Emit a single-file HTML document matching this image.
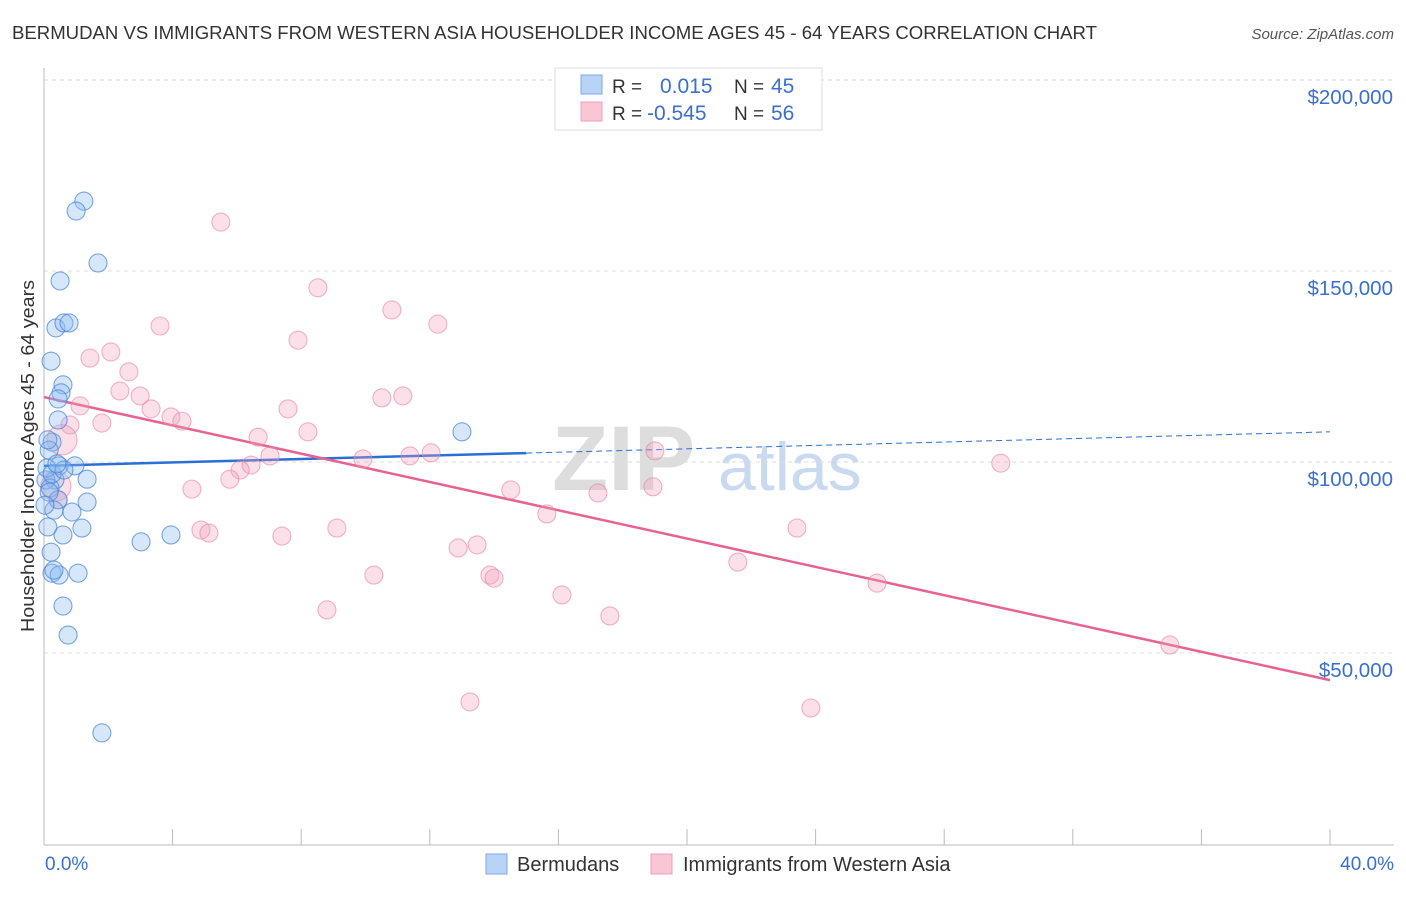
<!DOCTYPE html>
<html><head><meta charset="utf-8"><style>
body{margin:0;background:#fff;font-family:"Liberation Sans",sans-serif;}
svg text{font-family:"Liberation Sans",sans-serif;}
</style></head><body>
<svg id="chart" width="1406" height="892" xmlns="http://www.w3.org/2000/svg">
<text x="12" y="39" font-size="18" fill="#333" textLength="1085" lengthAdjust="spacingAndGlyphs">BERMUDAN VS IMMIGRANTS FROM WESTERN ASIA HOUSEHOLDER INCOME AGES 45 - 64 YEARS CORRELATION CHART</text>
<text x="1394" y="39" font-size="15" fill="#555" text-anchor="end" font-style="italic">Source: ZipAtlas.com</text>
<text transform="translate(34,456) rotate(-90)" font-size="18.5" fill="#333" text-anchor="middle" textLength="352" lengthAdjust="spacingAndGlyphs">Householder Income Ages 45 - 64 years</text>
<g>
<text x="552" y="490" font-size="92" fill="#ddd" font-family="Liberation Serif" font-weight="bold">ZIP</text>
<text x="718" y="490" font-size="68" fill="#c9daf0">atlas</text>
</g>
<g id="grid"></g>
<g id="axes"></g>
<g id="lines"></g>
<g id="pts"></g>
<g>
<rect x="555" y="68" width="267" height="62" fill="#fff" stroke="#ddd"/>
<rect x="581" y="75" width="21" height="19" fill="#b8d3f5" stroke="#7fa9e6"/>
<rect x="581" y="102" width="21" height="19" fill="#f8c6d5" stroke="#eea0b8"/>
<text x="612" y="93" font-size="19" fill="#333">R =</text>
<text x="660" y="93" font-size="21" fill="#3a6fd0">0.015</text>
<text x="734" y="93" font-size="19" fill="#333">N =</text>
<text x="771" y="93" font-size="21" fill="#3a6fd0">45</text>
<text x="612" y="120" font-size="19" fill="#333">R =</text>
<text x="647" y="120" font-size="21" fill="#3a6fd0">-0.545</text>
<text x="734" y="120" font-size="19" fill="#333">N =</text>
<text x="771" y="120" font-size="21" fill="#3a6fd0">56</text>
</g>
<g>
<rect x="486" y="854" width="21" height="20" fill="#b8d3f5" stroke="#7fa9e6"/>
<text x="517" y="871" font-size="20" fill="#333">Bermudans</text>
<rect x="651" y="854" width="21" height="20" fill="#f8c6d5" stroke="#eea0b8"/>
<text x="683" y="871" font-size="20" fill="#333">Immigrants from Western Asia</text>
</g>
</svg>
<script>
const xTickLabels=["0.0%","40.0%"];
const yTicks=[50000,100000,150000,200000];
const yTickLabels=["$50,000","$100,000","$150,000","$200,000"];
const blueX=[1.24,1.00,1.68,0.50,0.37,0.62,0.78,0.22,0.59,0.53,0.44,0.44,0.25,0.16,0.47,0.96,0.34,1.34,0.06,0.19,0.44,0.31,1.34,0.87,1.18,0.59,0.12,3.02,3.95,0.22,0.25,0.47,1.06,0.31,0.59,0.75,1.80,13.0,0.09,0.25,0.16,0.62,0.40,0.03,0.12];
const blueY=[168.3,165.7,152.1,147.4,135.1,136.4,136.4,126.4,120.2,118.1,116.5,111.0,105.2,103.1,99.0,99.0,95.3,95.5,95.3,93.2,90.1,87.4,89.5,86.9,82.7,80.9,83.0,79.1,80.9,76.4,70.9,70.4,70.9,71.7,62.3,54.7,29.1,107.9,98.4,96.9,92.1,97.9,99.5,88.7,105.8];
const pinkX=[5.5,8.52,10.82,12.25,3.61,7.90,2.08,1.43,2.64,2.36,2.99,11.16,10.51,1.12,3.33,7.59,3.95,4.29,1.80,0.81,8.21,6.66,0.56,19.0,12.04,11.38,7.03,9.92,6.44,29.76,6.10,5.78,0.37,18.94,4.60,14.52,17.23,0.44,15.64,23.42,9.11,4.88,5.13,7.40,13.47,12.88,21.58,10.26,13.87,14.00,25.91,16.11,8.80,17.60,35.02,13.25,23.85];
const pinkY=[162.8,145.6,139.8,136.1,135.6,131.9,128.8,127.2,123.6,118.6,117.3,117.3,116.8,114.7,113.9,113.9,111.8,110.7,110.2,109.7,107.9,106.5,105.8,102.9,102.4,101.6,101.6,100.8,99.2,99.7,97.9,95.5,93.7,93.5,92.9,92.7,91.9,90.1,86.4,82.7,82.7,82.2,81.4,80.6,78.3,77.5,73.8,70.4,70.4,69.6,68.3,65.2,61.3,59.7,52.1,37.2,35.6];
const bigPink=[22,32];
const blueTrend=[99.0,107.9];
const pinkTrend=[117.0,42.9];
const NS="http://www.w3.org/2000/svg";
const X=p=>44+p/40*1286;
const Y=k=>462-(k-100)*191/50;
function mk(par,tag,at){const e=document.createElementNS(NS,tag);for(const k in at)e.setAttribute(k,at[k]);document.getElementById(par).appendChild(e);return e;}
yTicks.forEach((v,i)=>{
 const g=mk('grid','line',{x1:44,x2:1394,y1:Y(v/1000),y2:Y(v/1000),stroke:'#ddd','stroke-dasharray':'4,4'});
 
 
 const t=mk('grid','text',{x:1393,y:Y(v/1000)+24,'font-size':20.5,fill:'#3a6fd0','text-anchor':'end'});
 t.textContent=yTickLabels[i];
 
 
});
let a=mk('axes','line',{x1:44,x2:44,y1:68,y2:845,stroke:'#bbb'});


a=mk('axes','line',{x1:44,x2:1394,y1:845,y2:845,stroke:'#bbb'});


for(let i=1;i<=10;i++){const t=mk('axes','line',{x1:X(i*4),x2:X(i*4),y1:829,y2:845,stroke:'#bbb'});
 
 }
let t=mk('axes','text',{x:45,y:870,'font-size':19,fill:'#3a6fd0'});t.textContent=xTickLabels[0];


t=mk('axes','text',{x:1394,y:870,'font-size':19,fill:'#3a6fd0','text-anchor':'end'});t.textContent=xTickLabels[1];


pinkX.forEach((x,i)=>{const c=mk('pts','circle',{cx:X(x),cy:Y(pinkY[i]),r:bigPink.includes(i)?15:9,fill:'rgba(244,160,186,0.32)',stroke:'rgba(232,130,165,0.6)','stroke-width':1.1});
 
 });
blueX.forEach((x,i)=>{const c=mk('pts','circle',{cx:X(x),cy:Y(blueY[i]),r:9,fill:'rgba(140,185,240,0.35)',stroke:'rgba(70,130,215,0.7)','stroke-width':1.1});
 
 });
const bAt=p=>blueTrend[0]+(blueTrend[1]-blueTrend[0])*p/40;
let l=mk('lines','line',{x1:X(0),y1:Y(bAt(0)),x2:X(15),y2:Y(bAt(15)),stroke:'#2a6fd6','stroke-width':2.5});


l=mk('lines','line',{x1:X(15),y1:Y(bAt(15)),x2:X(40),y2:Y(bAt(40)),stroke:'#2a6fd6','stroke-width':1,'stroke-dasharray':'6,4'});


l=mk('lines','line',{x1:X(0),y1:Y(pinkTrend[0]),x2:X(40),y2:Y(pinkTrend[1]),stroke:'#e8628f','stroke-width':2.5});


</script>
</body></html>
